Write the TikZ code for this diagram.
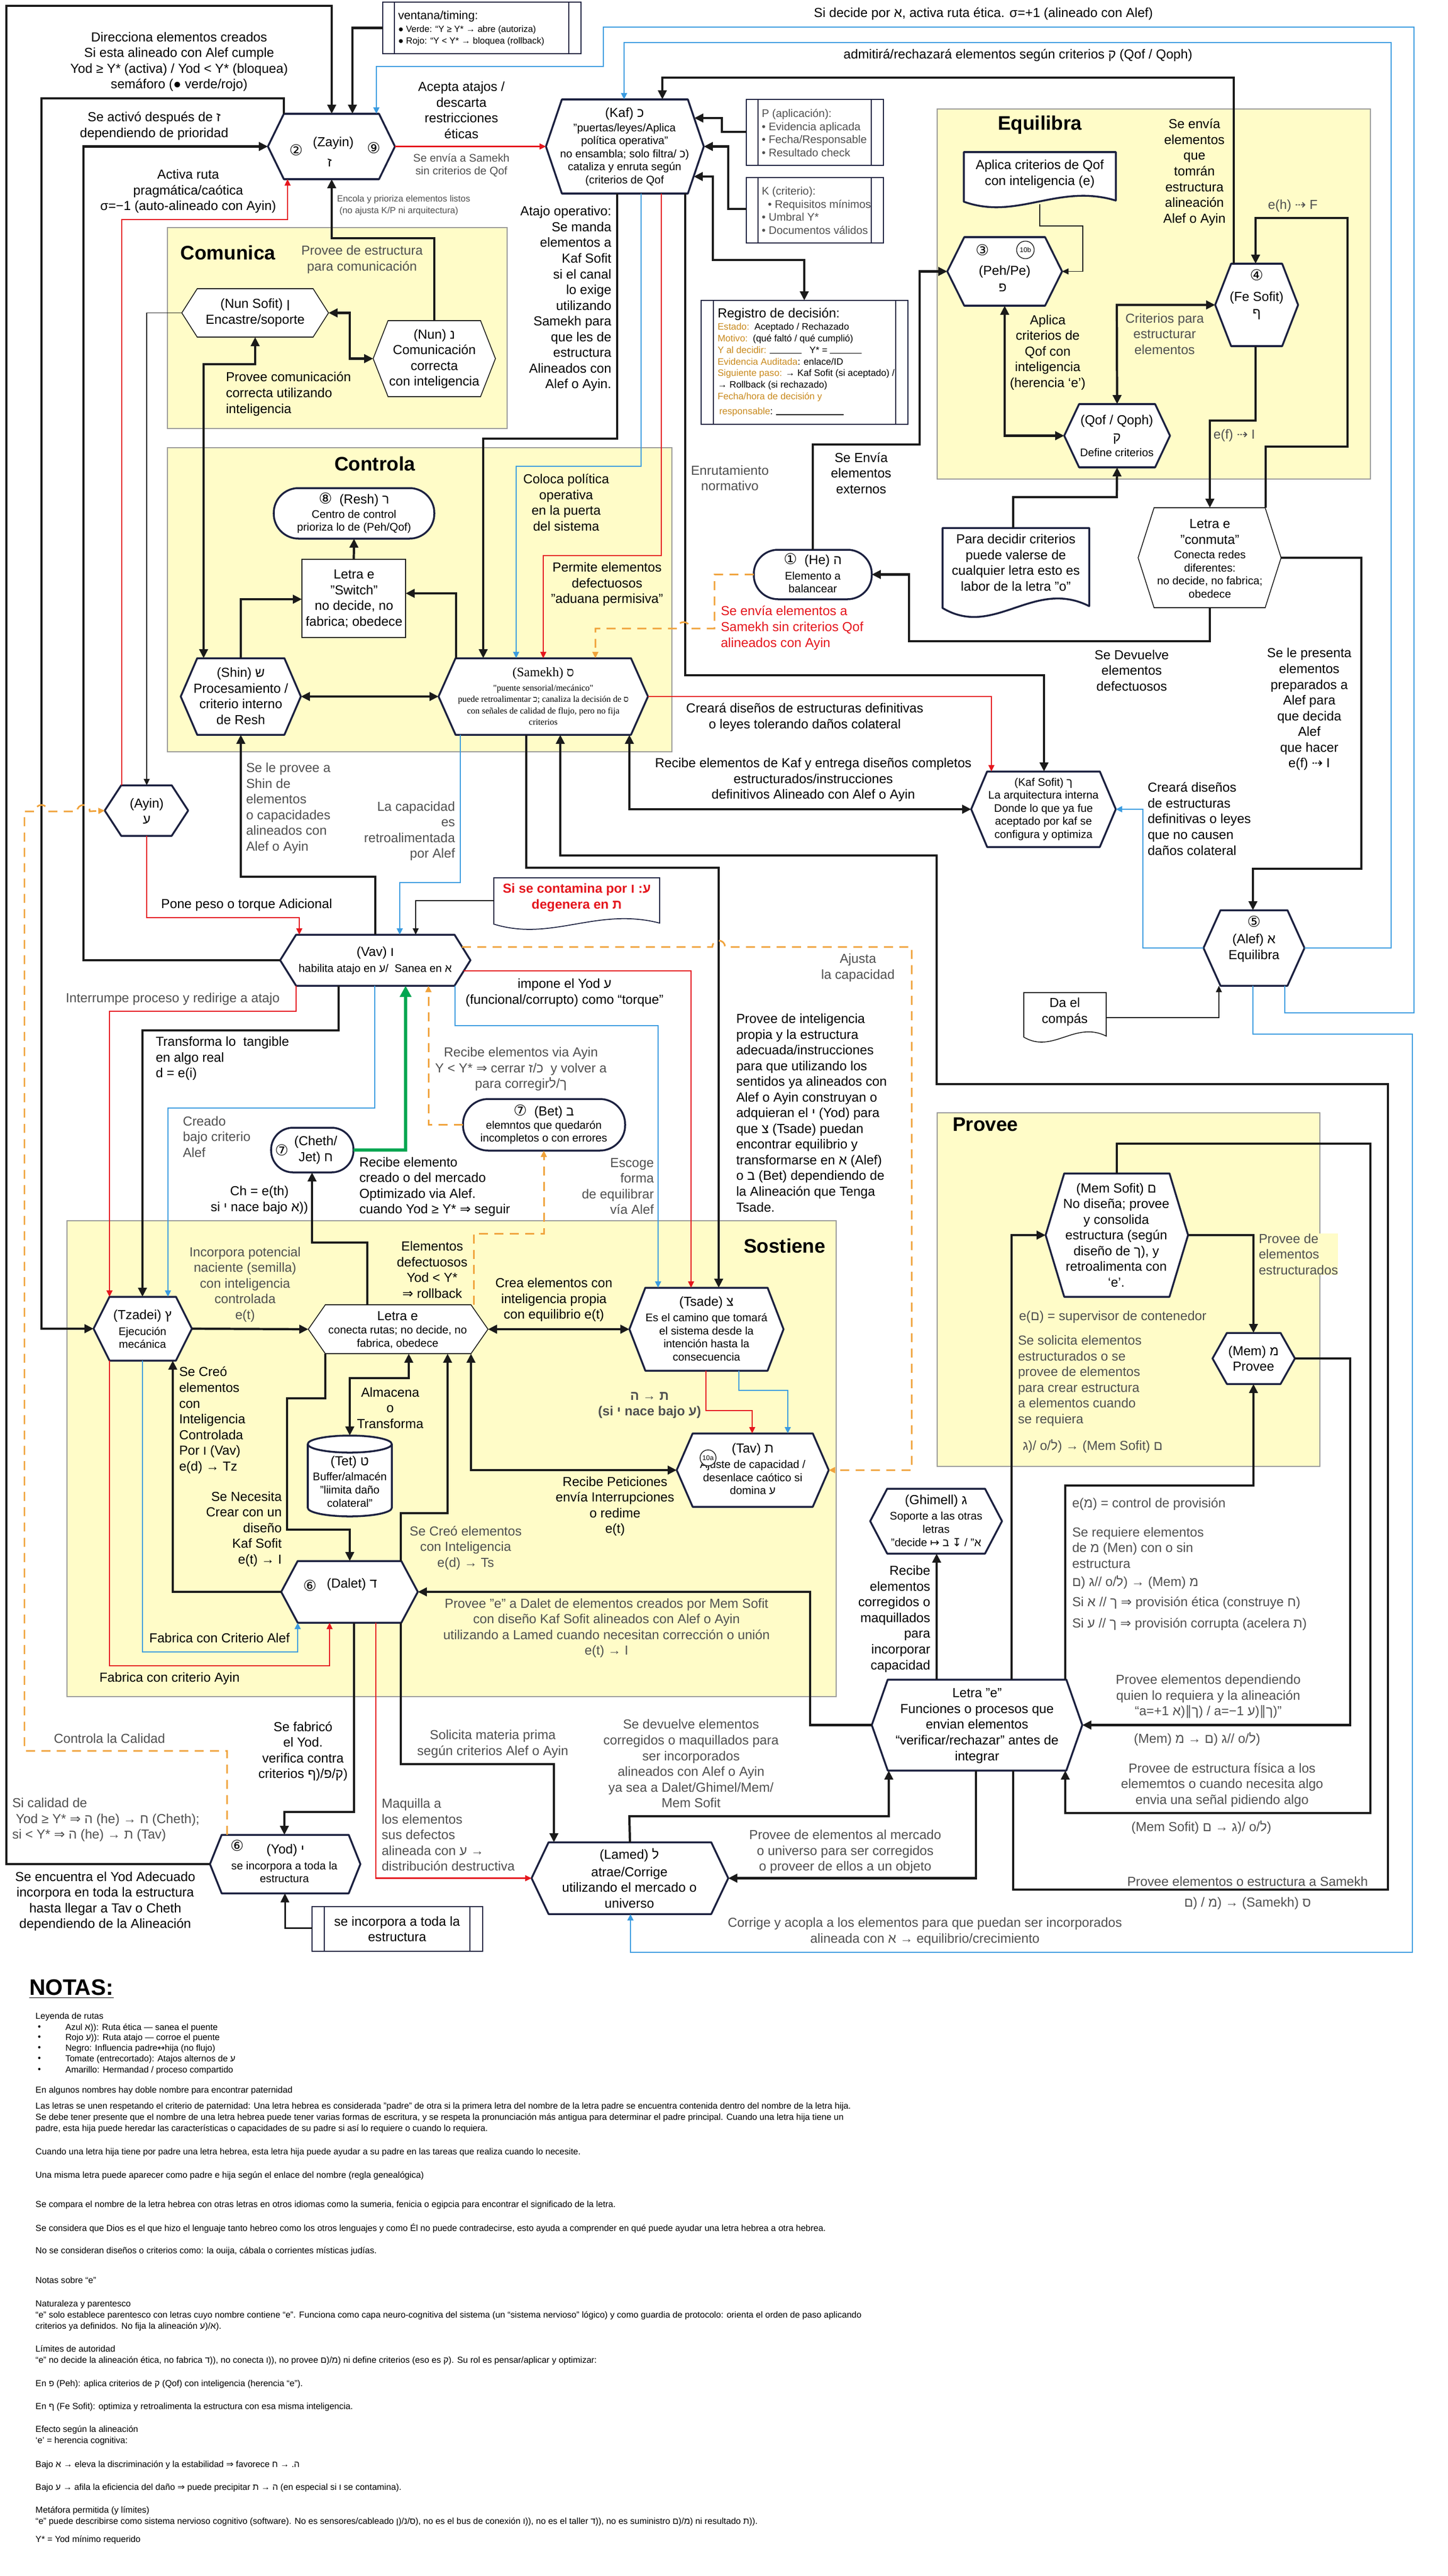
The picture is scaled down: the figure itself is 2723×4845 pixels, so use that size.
\documentclass[tikz,border=0pt]{standalone}
\usepackage{fontspec}
\setmainfont{Liberation Sans}
\newfontfamily\sy{DejaVu Sans}
\newfontfamily\serifx{Liberation Serif}
\usetikzlibrary{arrows.meta}
\definecolor{navy}{HTML}{1C2140}
\definecolor{ylw}{HTML}{FFFCC8}
\definecolor{rd}{HTML}{E5161D}
\definecolor{bl}{HTML}{3A9BE0}
\definecolor{og}{HTML}{F0A23A}
\definecolor{gr}{HTML}{00A651}
\definecolor{gt}{HTML}{505050}
\definecolor{lb}{HTML}{1A1A1A}
\definecolor{br}{HTML}{C98A1E}
\newcommand\K{\kern0pt}
\newcommand\cd[1]{{\sy\fontsize{8}{8}\selectfont#1}}
\newcommand\sym[1]{{\sy#1}}
\newcommand\fL{\fontsize{7}{8.4}\selectfont}
\newcommand\fM{\fontsize{5.9}{7}\selectfont}
\newcommand\fS{\fontsize{4.8}{6.2}\selectfont}
\newcommand\fN{\fontsize{4.7}{6}\selectfont}
\newcommand\fT{\fontsize{10.5}{12}\selectfont\bfseries}
\newcommand\hexn[7]{%
  \path[#7] (#2,{(#3+#5)/2}) -- ({#2+#6},#3) -- ({#4-#6},#3) -- (#4,{(#3+#5)/2}) -- ({#4-#6},#5) -- ({#2+#6},#5) -- cycle;
  \node[lbl,minimum width={(#4-#2)*0.01cm},minimum height={(#5-#3)*0.01cm}] (#1) at ({(#2+#4)/2},{(#3+#5)/2}) {};}
\newcommand\stadn[6]{%
  \path[#6,rounded corners={(#5-#3)*0.0049cm}] (#2,#3) rectangle (#4,#5);
  \node[lbl,minimum width={(#4-#2)*0.01cm},minimum height={(#5-#3)*0.01cm}] (#1) at ({(#2+#4)/2},{(#3+#5)/2}) {};}
\newcommand\docn[6]{%
  \path[#6] (#2,#3) -- (#4,#3) -- (#4,{#5-0.14*(#5-#3)}) .. controls ({#2+0.62*(#4-#2)},{#5-0.45*(#5-#3)}) and ({#2+0.35*(#4-#2)},{#5+0.22*(#5-#3)}) .. (#2,{#5-0.12*(#5-#3)}) -- cycle;
  \node[lbl,minimum width={(#4-#2)*0.01cm},minimum height={(#5-#3)*0.01cm}] (#1) at ({(#2+#4)/2},{(#3+#5)/2}) {};}
\newcommand\predn[8]{%
  \path[#8] (#2,#3) rectangle (#4,#5);
  \draw[#8,fill=none] (#6,#3) -- (#6,#5) (#7,#3) -- (#7,#5);
  \node[lbl,minimum width={(#4-#2)*0.01cm},minimum height={(#5-#3)*0.01cm}] (#1) at ({(#2+#4)/2},{(#3+#5)/2}) {};}
\begin{document}
\begin{tikzpicture}[x=0.01cm,y=-0.01cm,
  lbl/.style={inner sep=0pt,outer sep=0pt,align=center},
  tx/.style={lbl,font=\fL,text=black},
  gx/.style={lbl,font=\fL,text=gt},
  nt/.style={lbl,font=\fN,text=black,anchor=west,align=left},
  ybox/.style={fill=ylw,draw=gray!80,line width=0.4pt},
  nb/.style={fill=white,draw=navy,line width=1pt,line join=round},
  tb/.style={fill=white,draw=lb,line width=0.45pt},
  tbn/.style={fill=white,draw=navy,line width=0.5pt},
  pb/.style={fill=white,draw=navy,line width=0.5pt},
  thk/.style={draw=lb,line width=1.2pt},
  thn/.style={draw=lb,line width=0.55pt},
  med/.style={draw=lb,line width=0.85pt},
  rl/.style={draw=rd,line width=0.7pt},
  bll/.style={draw=bl,line width=0.8pt},
  ol/.style={draw=og,line width=0.85pt,dash pattern=on 4.8pt off 3.4pt},
  gl/.style={draw=gr,line width=1.6pt},
  ar/.style={-{Triangle[length=1.7mm,width=1.6mm]}},
  dar/.style={{Triangle[length=1.7mm,width=1.6mm]}-{Triangle[length=1.7mm,width=1.6mm]}},
  sar/.style={-{Triangle[length=1.2mm,width=1.1mm]}},
  gar/.style={-{Triangle[length=2.1mm,width=2.1mm]}}]
\path[use as bounding box,fill=white] (0,0) rectangle (2723,4845);
% ---------- group boxes ----------
\path[ybox] (315,428) rectangle (954,806);
\path[ybox] (315,842) rectangle (1264,1414);
\path[ybox] (1763,205) rectangle (2578,901);
\path[ybox] (126,2296) rectangle (1573,3191);
\path[ybox] (1763,2093) rectangle (2483,2758);
% ---------- shapes ----------
\hexn{zayin}{504}{214}{743}{337}{30}{nb}
\hexn{kaf}{1027}{187}{1324}{364}{30}{nb}
\hexn{nunsofit}{342}{543}{618}{634}{29}{tb}
\hexn{nun}{702}{603}{932}{746}{28}{tb}
\stadn{resh}{515}{918}{817}{1013}{nb}
\path[tb] (568,1052) rectangle (763,1199);
\node[lbl,minimum width=1.95cm,minimum height=1.47cm] (switch) at (665.5,1125.5) {};
\hexn{shin}{340}{1238}{566}{1382}{31}{nb}
\hexn{samekh}{825}{1238}{1219}{1382}{32}{nb}
\hexn{ayin}{197}{1477}{354}{1572}{31}{nb}
\hexn{vav}{527}{1758}{885}{1854}{30}{nb}
\hexn{kafsofit}{1827}{1451}{2099}{1593}{30}{nb}
\hexn{alef}{2264}{1712}{2454}{1854}{32}{nb}
\stadn{he}{1418}{1034}{1640}{1127}{nb}
\hexn{peh}{1782}{446}{1998}{575}{32}{nb}
\hexn{qof}{2002}{760}{2201}{879}{28}{nb}
\hexn{fesofit}{2286}{496}{2442}{651}{30}{nb}
\hexn{conmuta}{2141}{955}{2410}{1143}{30}{tb}
\docn{docaplica}{1813}{286}{2099}{392}{nb}
\docn{docdecidir}{1773}{993}{2049}{1164}{nb}
\docn{doccontam}{929}{1651}{1241}{1750}{tbn}
\docn{doccompas}{1926}{1867}{2081}{1962}{tb}
\predn{ventana}{720}{4}{1093}{101}{742}{1070}{pb}
\predn{pbox}{1404}{187}{1662}{311}{1426}{1639}{pb}
\predn{kbox}{1404}{334}{1662}{457}{1426}{1639}{pb}
\predn{registro}{1319}{565}{1708}{798}{1342}{1685}{pb}
\predn{incorpora}{587}{3586}{908}{3670}{610}{884}{pb}
\stadn{cheth}{510}{2121}{665}{2205}{nb}
\stadn{bet}{871}{2067}{1176}{2164}{nb}
\hexn{tzadei}{176}{2439}{361}{2559}{30}{nb}
\hexn{letrae}{580}{2454}{918}{2546}{32}{tb}
\hexn{tsade}{1184}{2422}{1474}{2578}{30}{nb}
\hexn{tav}{1273}{2696}{1559}{2834}{30}{nb}
\path[nb] (579,2716) -- (579,2836) arc[start angle=180,end angle=360,x radius=0.79cm,y radius=0.16cm] -- (737,2716) arc[start angle=0,end angle=180,x radius=0.79cm,y radius=0.16cm] -- cycle;
\draw[draw=navy,line width=1pt] (579,2716) arc[start angle=180,end angle=360,x radius=0.79cm,y radius=0.16cm];
\node[lbl,minimum width=1.58cm,minimum height=1.52cm] (tet) at (658,2776) {};
\hexn{dalet}{529}{2936}{786}{3052}{31}{nb}
\hexn{yod}{395}{3451}{678}{3561}{22}{nb}
\hexn{lamed}{1000}{3465}{1370}{3600}{32}{nb}
\hexn{funciones}{1640}{3159}{2036}{3330}{30}{nb}
\hexn{ghimel}{1637}{2800}{1885}{2922}{32}{nb}
\hexn{mem}{2281}{2507}{2436}{2603}{27}{nb}
\hexn{memsofit}{1967}{2207}{2235}{2439}{35}{nb}
\coordinate (kafP) at (1306,222);
\coordinate (kafR) at (1305,332);
\coordinate (vavR) at (869,1781);
\coordinate (vavR2) at (872,1826);
\coordinate (aplB) at (1956,384);
% ---------- connectors ----------
\draw[thk,ar] (yod.west) -- (12,0 |- yod.west) -- (12,11) -- (624,11) -- (624,0 |- zayin.north);
\draw[thk,ar] (534,0 |- zayin.north) -- (534,185) -- (78,185) -- (78,0 |- tzadei.west) -- (tzadei.west);
\draw[thk,ar] (vav.west) -- (157,0 |- vav.west) -- (157,0 |- zayin.west) -- (zayin.west);
\draw[rl,sar] (229,0 |- ayin.north) -- (229,413) -- (541,413) -- (541,0 |- zayin.south);
\draw[thk,ar] (817,0 |- nun.north) -- (817,448) -- (624,448) -- (624,0 |- zayin.south);
\draw[thk,ar] (ventana.west) -- (663,0 |- ventana.west) -- (663,0 |- zayin.north);
\draw[bll,sar] (2417,0 |- alef.south) -- (2417,1905) -- (2660,1905) -- (2660,51) -- (1135,51) -- (1135,125) -- (708,125) -- (708,0 |- zayin.north);
\draw[rl,sar] (zayin.east) -- (kaf.west);
\draw[bll,sar] (alef.east) -- (2617,0 |- alef.east) -- (2617,80) -- (1174,80) -- (1174,0 |- kaf.north);
\draw[thk,ar] (2321,0 |- fesofit.north) -- (2321,146) -- (1246,146) -- (1246,0 |- kaf.north);
\draw[thk,ar] (pbox.west |- 0,248) -- (1358,248) -- (1358,222) -- (kafP);
\draw[thk,ar] (kbox.west |- 0,393) -- (1370,393) -- (1370,0 |- kaf.east) -- (kaf.east);
\draw[thk,dar] (kafR) -- (1341,332) -- (1341,489) -- (1513,489) -- (1513,0 |- registro.north);
\draw[thk,ar] (1161,0 |- kaf.south) -- (1161,825) -- (909,825) -- (909,0 |- samekh.north);
\draw[bll,sar] (1206,0 |- kaf.south) -- (1206,877) -- (971,877) -- (971,0 |- samekh.north);
\draw[rl,sar] (1244,0 |- kaf.south) -- (1244,1045) -- (1022,1045) -- (1022,0 |- samekh.north);
\draw[thk,ar] (1289,0 |- kaf.south) -- (1289,1270) -- (1964,1270) -- (1964,0 |- kafsofit.north);
\draw[ol,sar] (he.west) -- (1344,0 |- he.west) -- (1344,1182) -- (1298,1182) arc[start angle=0,end angle=180,radius=1.2mm] -- (1120,1182) -- (1120,0 |- samekh.north);
\draw[thk,ar] (1529,0 |- he.north) -- (1529,836) -- (1730,836) -- (1730,0 |- peh.west) -- (peh.west);
\draw[thk,ar] (2276,0 |- conmuta.south) -- (2276,1206) -- (1710,1206) -- (1710,0 |- he.east) -- (he.east);
\draw[thn,sar] (aplB) -- (1956,425) -- (2037,425) -- (2037,0 |- peh.east) -- (peh.east);
\draw[thk,dar] (peh.south) -- (1890,0 |- qof.west) -- (qof.west);
\draw[thk,dar] (qof.north) -- (2101,0 |- fesofit.west) -- (fesofit.west);
\draw[thk,ar] (docdecidir.north -| 1906,0) -- (1906,935) -- (2101,935) -- (qof.south);
\draw[thk,ar] (2381,0 |- conmuta.north) -- (2381,840) -- (2535,840) -- (2535,410) -- (2362,410) -- (2362,0 |- fesofit.north);
\draw[thk,ar] (2362,0 |- fesofit.south) -- (2362,791) -- (2276,791) -- (2276,0 |- conmuta.north);
\draw[thk,ar] (conmuta.east) -- (2561,0 |- conmuta.east) -- (2561,1634) -- (2357,1634) -- (2357,0 |- alef.north);
\draw[thn,sar] (doccompas.east |- 0,1914) -- (2293,1914) -- (2293,0 |- alef.south);
\draw[bll,sar] (alef.west) -- (2150,0 |- alef.west) -- (2150,0 |- kafsofit.east) -- (kafsofit.east);
\draw[bll,sar] (2357,0 |- alef.south) -- (2357,1945) -- (2657,1945) -- (2657,3672) -- (1186,3672) -- (1186,0 |- lamed.south);
\draw[rl,sar] (samekh.east) -- (1865,0 |- samekh.east) -- (1865,0 |- kafsofit.north);
\draw[thk,dar] (1184,0 |- samekh.south) -- (1184,0 |- kafsofit.west) -- (kafsofit.west);
\draw[thk,ar] (1906,0 |- funciones.south) -- (1906,3554) -- (2611,3554) -- (2611,2039) -- (1762,2039) -- (1762,1609) -- (1054,1609) -- (1054,0 |- samekh.south);
\draw[thk,ar] (990,0 |- samekh.south) -- (990,1632) -- (1352,1632) -- (1352,0 |- tsade.north);
\draw[thk,dar] (shin.east) -- (samekh.west);
\draw[thk,ar] (858,0 |- samekh.north) -- (858,1116) -- (switch.east |- 0,1116);
\draw[thk,ar] (453,0 |- shin.north) -- (453,1127) -- (switch.west |- 0,1127);
\draw[thk,ar] (switch.north) -- (resh.south);
\draw[thk,dar] (nunsofit.south) -- (480,685) -- (383,685) -- (383,0 |- shin.north);
\draw[thk,dar] (nunsofit.east) -- (658,0 |- nunsofit.east) -- (658,0 |- nun.west) -- (nun.west);
\draw[thn,sar] (nunsofit.west) -- (276,0 |- nunsofit.west) -- (276,0 |- ayin.north);
\draw[thk,ar] (706,0 |- vav.north) -- (706,1649) -- (453,1649) -- (453,0 |- shin.south);
\draw[bll,sar] (866,0 |- samekh.south) -- (866,1660) -- (752,1660) -- (752,0 |- vav.north);
\draw[thn,sar] (doccontam.west |- 0,1694) -- (782,1694) -- (782,0 |- vav.north);
\draw[rl,sar] (276,0 |- ayin.south) -- (276,1726) -- (563,1726) -- (563,0 |- vav.north);
\draw[ol,sar] (427,0 |- yod.north) -- (427,3293) -- (46,3293) -- (46,1526) -- (66,1526) arc[start angle=180,end angle=0,radius=1.2mm] -- (145,1526) arc[start angle=180,end angle=0,radius=1.2mm] -- (ayin.west);
\draw[rl,sar] (557,0 |- vav.south) -- (557,1902) -- (206,1902) -- (206,0 |- tzadei.north);
\draw[thk,ar] (637,0 |- vav.south) -- (637,1938) -- (268,1938) -- (268,0 |- tzadei.north);
\draw[bll,sar] (705,0 |- vav.south) -- (705,2084) -- (316,2084) -- (316,0 |- tzadei.north);
\draw[gl,gar] (cheth.east) -- (763,0 |- cheth.east) -- (763,0 |- vav.south);
\draw[ol,sar] (bet.west) -- (806,0 |- bet.west) -- (806,0 |- vav.south);
\draw[ol,sar] (vavR) -- (1340,1781) arc[start angle=180,end angle=0,radius=1.2mm] -- (1715,1781) -- (1715,0 |- tav.east) -- (tav.east);
\draw[rl,sar] (vavR2) -- (1300,1826) -- (1300,0 |- tsade.north);
\draw[bll,sar] (856,0 |- vav.south) -- (856,1929) -- (1238,1929) -- (1238,0 |- tsade.north);
\draw[ol,sar] (891,0 |- letrae.north) -- (891,2320) -- (1023,2320) -- (1023,0 |- bet.south);
\draw[thk,ar] (691,0 |- letrae.north) -- (691,2337) -- (587,2337) -- (587,0 |- cheth.south);
\draw[thk,ar] (tzadei.east) -- (letrae.west);
\draw[thk,dar] (letrae.east) -- (tsade.west);
\draw[rl,sar] (1328,0 |- tsade.south) -- (1328,2653) -- (1415,2653) -- (1415,0 |- tav.north);
\draw[bll,sar] (1390,0 |- tsade.south) -- (1390,2615) -- (1482,2615) -- (1482,0 |- tav.north);
\draw[thk,dar] (886,0 |- letrae.south) -- (886,0 |- tav.west) -- (tav.west);
\draw[thk,dar] (tet.north) -- (658,2592) -- (769,2592) -- (769,0 |- letrae.south);
\draw[thk,ar] (612,0 |- letrae.south) -- (612,2630) -- (540,2630) -- (540,2877) -- (658,2877) -- (658,0 |- dalet.north);
\draw[thk,ar] (754,0 |- dalet.north) -- (754,2846) -- (842,2846) -- (842,0 |- letrae.south);
\draw[thk,ar] (dalet.west) -- (325,0 |- dalet.west) -- (325,0 |- tzadei.south);
\draw[bll,sar] (268,0 |- tzadei.south) -- (268,3107) -- (560,3107) -- (560,0 |- dalet.south);
\draw[rl,sar] (206,0 |- tzadei.south) -- (206,3133) -- (620,3133) -- (620,0 |- dalet.south);
\draw[thk,ar] (funciones.west) -- (1524,0 |- funciones.west) -- (1524,0 |- dalet.east) -- (dalet.east);
\draw[thk,ar] (666,0 |- dalet.south) -- (666,3408) -- (535,3408) -- (535,0 |- yod.north);
\draw[rl,sar] (707,0 |- dalet.south) -- (707,0 |- lamed.west) -- (lamed.west);
\draw[thk,ar] (754,0 |- dalet.south) -- (754,3318) -- (1042,3318) -- (1042,0 |- lamed.north);
\draw[med,ar] (incorpora.west |- 0,3626) -- (536,3626) -- (536,0 |- yod.south);
\draw[thk,ar] (lamed.north) -- (1184,3416) -- (1672,3416) -- (1672,0 |- funciones.south);
\draw[thk,ar] (1836,0 |- funciones.south) -- (1836,0 |- lamed.east) -- (lamed.east);
\draw[thk,ar] (1903,0 |- funciones.north) -- (1903,0 |- memsofit.west) -- (memsofit.west);
\draw[thk,ar] (memsofit.north) -- (2101,2151) -- (2578,2151) -- (2578,3410) -- (2004,3410) -- (2004,0 |- funciones.south);
\draw[thk,ar] (memsofit.east) -- (2358,0 |- memsofit.east) -- (2358,0 |- mem.north);
\draw[thk,ar] (mem.east) -- (2540,0 |- mem.east) -- (2540,0 |- funciones.east) -- (funciones.east);
\draw[thk,ar] (2004,0 |- funciones.north) -- (2004,2794) -- (2358,2794) -- (2358,0 |- mem.south);
\draw[thk,ar] (1762,0 |- funciones.north) -- (1762,0 |- ghimel.south);
% ---------- node texts ----------
\node[tx] (zT1) at (627,269) {(Zayin)};
\node[tx] (zT2) at (620,306) {ז};
\node[lbl] (zT3) at (557,282) {\cd{②}};
\node[lbl] (zT4) at (703,278) {\cd{⑨}};
\node[tx] (kT1) at (1175,214) {(Kaf) כ};
\node[tx,font=\fM] (kT2) at (1175,291) {"puertas/leyes/Aplica\\política operativa"\\no ensambla; solo filtra/ כ\K{})\\cataliza y enruta según\\(criterios de Qof};
\node[tx] (nsT) at (480,588) {(Nun Sofit) ן\\Encastre/soporte};
\node[tx] (nT) at (817,675) {(Nun) נ\\Comunicación\\correcta\\con inteligencia};
\node[tx] (rT1) at (666,940) {\cd{⑧}\ \ (Resh) ר};
\node[tx,font=\fM] (rT2) at (666,981) {Centro de control\\prioriza lo de (Peh/Qof)};
\node[tx] (swT) at (666,1126) {Letra e\\"Switch"\\no decide, no\\fabrica; obedece};
\node[tx] (shT) at (453,1309) {(Shin) ש\\Procesamiento /\\criterio interno\\de Resh};
\node[tx,font=\serifx\fontsize{7}{8}\selectfont] (smT1) at (1022,1267) {(Samekh) ס};
\node[tx,font=\serifx\fontsize{4.7}{6.1}\selectfont] (smT2) at (1022,1326) {"puente sensorial/mecánico"\\puede retroalimentar ;כ canaliza la decisión de ס\\con señales de calidad de flujo, pero no fija\\criterios};
\node[tx] (ayT) at (276,1526) {(Ayin)\\ע};
\node[tx] (vT1) at (706,1792) {(Vav) ו};
\node[tx,font=\fM] (vT2) at (706,1823) {habilita atajo en ע\K{}/\ \ Sanea en א};
\node[tx,font=\fM] (ksT) at (1963,1522) {(Kaf Sofit) ך\\La arquitectura interna\\Donde lo que ya fue\\aceptado por kaf se\\configura y optimiza};
\node[lbl] (aT1) at (2359,1733) {\cd{⑤}};
\node[tx] (aT2) at (2359,1783) {(Alef) א\\Equilibra};
\node[tx] (hT1) at (1529,1054) {\cd{①}\ \ (He) ה};
\node[tx,font=\fM] (hT2) at (1529,1095) {Elemento a\\balancear};
\node[lbl] (pT1) at (1848,470) {\cd{③}};
\node[lbl,draw=lb,line width=0.4pt,circle,minimum size=0.33cm,font=\fontsize{3.6}{4}\selectfont] (pT2) at (1929,470) {10b};
\node[tx] (pT3) at (1890,511) {(Peh/Pe)};
\node[tx] (pT4) at (1886,541) {פ};
\node[tx] (qT1) at (2101,792) {(Qof / Qoph)};
\node[tx] (qT2) at (2101,825) {ק};
\node[tx,font=\fM] (qT3) at (2101,851) {Define criterios};
\node[lbl] (fT1) at (2364,517) {\cd{④}};
\node[tx] (fT2) at (2364,575) {(Fe Sofit)\\ף};
\node[tx] (cT1) at (2276,1000) {Letra e\\"conmuta"};
\node[tx,font=\fM] (cT2) at (2276,1080) {Conecta redes\\diferentes:\\no decide, no fabrica;\\obedece};
\node[tx] (daT) at (1956,327) {Aplica criterios de Qof\\con inteligencia (e)};
\node[tx] (ddT) at (1911,1058) {Para decidir criterios\\puede valerse de\\cualquier letra esto es\\labor de la letra "o"};
\node[tx,text=rd,font=\fL\bfseries] (dcT) at (1085,1688) {Si se contamina por ו\K{} :\K{}ע\\degenera en ת};
\node[tx] (dpT) at (2003,1903) {Da el\\compás};
\node[tx,anchor=west,font=\fontsize{6.3}{7}\selectfont] (veT1) at (749,31) {ventana/timing:};
\node[tx,anchor=west,align=left,font=\fS] (veT2) at (749,67.5) {● Verde: “Y ≥ Y* → abre (autoriza)\\● Rojo: “Y < Y* → bloquea (rollback)};
\node[gx,anchor=west,align=left,font=\fM] (pbT) at (1433,250) {P (aplicación):\\• Evidencia aplicada\\• Fecha/Responsable\\• Resultado check};
\node[gx,anchor=west,align=left,font=\fM] (kbT) at (1433,396) {K (criterio):\\\ \ • Requisitos mínimos\\• Umbral Y*\\• Documentos válidos};
\node[tx,anchor=west] (rgT1) at (1350,591) {Registro de decisión:};
\node[tx,anchor=west,align=left,font=\fontsize{5}{6.2}\selectfont] (rgT2) at (1350,681.5) {\textcolor{br}{Estado:}\ \ Aceptado / Rechazado\\\textcolor{br}{Motivo:}\ \ (qué faltó / qué cumplió)\\\textcolor{br}{Y al decidir:} \rule[-0.3pt]{17pt}{0.35pt}\ \ \ Y* = \rule[-0.3pt]{17pt}{0.35pt}\\\textcolor{br}{Evidencia Auditada}: enlace/ID\\\textcolor{br}{Siguiente paso:} → Kaf Sofit (si aceptado) /\\→ Rollback (si rechazado)\\\textcolor{br}{Fecha/hora de decisión y}};
\node[tx,anchor=west,font=\fontsize{5}{6.2}\selectfont] (rgT3) at (1353,775) {\textcolor{br}{responsable}: \rule[-0.3pt]{36pt}{0.35pt}};
\node[lbl] (chT1) at (530,2163) {\cd{⑦}};
\node[tx] (chT2) at (594,2163) {(Cheth/\\Jet) ח};
\node[tx] (bT1) at (1023,2091) {\cd{⑦}\ \ (Bet) ב};
\node[tx,font=\fM] (bT2) at (1023,2130) {elemntos que quedarón\\incompletos o con errores};
\node[tx] (tzT1) at (268,2475) {(Tzadei) ץ};
\node[tx,font=\fM] (tzT2) at (268,2516) {Ejecución\\mecánica};
\node[tx] (leT1) at (748,2475) {Letra e};
\node[tx,font=\fM] (leT2) at (748,2515) {conecta rutas; no decide, no\\fabrica, obedece};
\node[tx] (tsT1) at (1329,2450) {(Tsade) צ};
\node[tx,font=\fM] (tsT2) at (1329,2515) {Es el camino que tomará\\el sistema desde la\\intención hasta la\\consecuencia};
\node[tx] (tvT1) at (1416,2726) {(Tav) ת};
\node[tx,font=\fM] (tvT2) at (1416,2779) {Ajuste de capacidad /\\desenlace caótico si\\domina ע};
\node[lbl,draw=lb,line width=0.4pt,circle,fill=white,minimum size=0.3cm,font=\fontsize{3.6}{4}\selectfont] (tvT3) at (1332,2742) {10a};
\node[tx] (ttT1) at (658,2750) {(Tet) ט};
\node[tx,font=\fM] (ttT2) at (658,2802) {Buffer/almacén\\"liimita daño\\colateral"};
\node[lbl] (dlT1) at (583,2982) {\cd{⑥}};
\node[tx] (dlT2) at (662,2980) {(Dalet) ד};
\node[lbl] (yT1) at (446,3471) {\cd{⑥}};
\node[tx] (yT2) at (537,3480) {(Yod) י};
\node[tx,font=\fM] (yT3) at (535,3521) {se incorpora a toda la\\estructura};
\node[tx] (lmT1) at (1184,3489) {(Lamed) ל};
\node[tx] (lmT2) at (1184,3550) {atrae/Corrige\\utilizando el mercado o\\universo};
\node[tx] (fnT) at (1838,3246) {Letra "e"\\Funciones o procesos que\\envian elementos\\“verificar/rechazar” antes de\\integrar};
\node[tx] (ghT1) at (1761,2823) {(Ghimell) ג};
\node[tx,font=\fM] (ghT2) at (1761,2876) {Soporte a las otras\\letras\\"decide \sym{↦} ב \sym{↧} / א"};
\node[tx] (mmT) at (2358,2555) {(Mem) מ\\Provee};
\node[tx] (msT) at (2100,2323) {(Mem Sofit) ם\\No diseña; provee\\y consolida\\estructura (según\\diseño de ך\K{}), y\\retroalimenta con\\‘e’.};
\node[tx] (icT) at (747,3628) {se incorpora a toda la\\estructura};
% ---------- titles ----------
\node[lbl,font=\fT] (ttl1) at (429,475) {Comunica};
\node[lbl,font=\fT] (ttl2) at (705,872) {Controla};
\node[lbl,font=\fT] (ttl3) at (1956,235) {Equilibra};
\node[lbl,font=\fT] (ttl4) at (1476,2343) {Sostiene};
\node[lbl,font=\fT,anchor=west] (ttl5) at (1792,2115) {Provee};
% ---------- connector labels ----------
\node[tx] (L1) at (337,116) {Direcciona elementos creados\\Si esta alineado con Alef cumple\\Yod ≥ Y* (activa) / Yod < Y* (bloquea)\\semáforo (● verde/rojo)};
\node[tx] (L2) at (290,237) {Se activó después de ז\\dependiendo de prioridad};
\node[tx] (L3) at (354,360) {Activa ruta\\pragmática/caótica\\σ=−1 (auto-alineado con Ayin)};
\node[gx,anchor=west,align=left,font=\fS] (L4) at (634,386) {Encola y prioriza elementos listos\\\ (no ajusta K/P ni arquitectura)};
\node[tx] (L5) at (868,207) {Acepta atajos /\\descarta\\restricciones\\éticas};
\node[gx,font=\fM] (L6) at (868,311) {Se envía a Samekh\\sin criterios de Qof};
\node[tx] (L7) at (1850,26) {Si decide por א\K{}, activa ruta ética. σ=+1 (alineado con Alef)};
\node[tx] (L8) at (1915,104) {admitirá/rechazará elementos según criterios ק (Qof / Qoph)};
\node[gx] (L9) at (681,488) {Provee de estructura\\para comunicación};
\node[tx,anchor=west,align=left] (L10) at (425,741) {Provee comunicación\\correcta utilizando\\inteligencia};
\node[tx,anchor=east,align=right] (L11) at (1150,562) {Atajo operativo:\\Se manda\\elementos a\\Kaf Sofit\\si el canal\\lo exige\\utilizando\\Samekh para\\que les de\\estructura\\Alineados con\\Alef o Ayin.};
\node[tx] (L12) at (1065,945) {Coloca política\\operativa\\en la puerta\\del sistema};
\node[tx] (L13) at (1142,1099) {Permite elementos\\defectuosos\\"aduana permisiva"};
\node[gx] (L14) at (1373,899) {Enrutamiento\\normativo};
\node[tx] (L15) at (1620,890) {Se Envía\\elementos\\externos};
\node[tx,anchor=west,align=left,text=rd] (L16) at (1356,1181) {Se envía elementos a\\Samekh sin criterios Qof\\alineados con Ayin};
\node[tx] (L17) at (2247,324) {Se envía\\elementos\\que\\tomrán\\estructura\\alineación\\Alef o Ayin};
\node[gx] (L18) at (2432,387) {e(h) \sym{⇢} F};
\node[tx] (L19) at (1971,663) {Aplica\\criterios de\\Qof con\\inteligencia\\(herencia ‘e’)};
\node[gx] (L20) at (2191,628) {Criterios para\\estructurar\\elementos};
\node[gx] (L21) at (2322,819) {e(f) \sym{⇢} I};
\node[tx] (L22) at (2129,1261) {Se Devuelve\\elementos\\defectuosos};
\node[tx] (L23) at (2463,1334) {Se le presenta\\elementos\\preparados a\\Alef para\\que decida\\Alef\\que hacer\\e(f) \sym{⇢} I};
\node[tx] (L24) at (1514,1349) {Creará diseños de estructuras definitivas\\o leyes tolerando daños colateral};
\node[tx] (L25) at (1530,1467) {Recibe elementos de Kaf y entrega diseños completos\\estructurados/instrucciones\\definitivos Alineado con Alef o Ayin};
\node[tx,anchor=west,align=left] (L26) at (2159,1540) {Creará diseños\\de estructuras\\definitivas o leyes\\que no causen\\daños colateral};
\node[gx,anchor=west,align=left] (L27) at (463,1520) {Se le provee a\\Shin de\\elementos\\o capacidades\\alineados con\\Alef o Ayin};
\node[gx,anchor=east,align=right] (L28) at (856,1563) {La capacidad\\es\\retroalimentada\\por Alef};
\node[tx] (L29) at (464,1702) {Pone peso o torque Adicional};
\node[gx] (L30) at (325,1879) {Interrumpe proceso y redirige a atajo};
\node[tx] (L31) at (1062,1867) {impone el Yod ע\\(funcional/corrupto) como “torque”};
\node[gx] (L32) at (1614,1820) {Ajusta\\la capacidad};
\node[tx,anchor=west,align=left] (L33) at (293,1991) {Transforma lo\ \ tangible\\en algo real\\d = e(i)};
\node[gx] (L34) at (980,2011) {Recibe elementos via Ayin\\Y < Y* \sym{⇒} cerrar ז\K{}/\K{}כ\ \ y volver a\\para corregir\K{}ל\K{}/\K{}ך};
\node[gx,anchor=west,align=left] (L35) at (344,2138) {Creado\\bajo criterio\\Alef};
\node[tx] (L36) at (488,2257) {Ch = e(th)\\si י nace bajo (א\K{})};
\node[tx,anchor=west,align=left] (L37) at (676,2232) {Recibe elemento\\creado o del mercado\\Optimizado via Alef.\\cuando Yod ≥ Y* \sym{⇒} seguir};
\node[gx,anchor=east,align=right] (L38) at (1230,2231) {Escoge\\forma\\de equilibrar\\vía Alef};
\node[tx,anchor=west,align=left] (L39) at (1385,2093) {Provee de inteligencia\\propia y la estructura\\adecuada/instrucciones\\para que utilizando los\\sentidos ya alineados con\\Alef o Ayin construyan o\\adquieran el י (Yod) para\\que צ (Tsade) puedan\\encontrar equilibrio y\\transformarse en א (Alef)\\o ב (Bet) dependiendo de\\la Alineación que Tenga\\Tsade.};
\node[gx] (L40) at (461,2416) {Incorpora potencial\\naciente (semilla)\\con inteligencia\\controlada\\e(t)};
\node[tx] (L41) at (813,2388) {Elementos\\defectuosos\\Yod < Y*\\\sym{⇒} rollback};
\node[tx] (L42) at (1042,2445) {Crea elementos con\\inteligencia propia\\con equilibrio e(t)};
\node[tx,font=\fL\bfseries,text=gt] (L43) at (1222,2643) {ה → ת\\(si י nace bajo ע\K{})};
\node[tx,anchor=west,align=left] (L44) at (337,2671) {Se Creó\\elementos\\con\\Inteligencia\\Controlada\\Por ו (Vav)\\e(d) → Tz};
\node[tx] (L45) at (734,2648) {Almacena\\o\\Transforma};
\node[tx,anchor=east,align=right] (L46) at (530,2876) {Se Necesita\\Crear con un\\diseño\\Kaf Sofit\\e(t) → I};
\node[gx] (L47) at (876,2911) {Se Creó elementos\\con Inteligencia\\e(d) → Ts};
\node[tx] (L48) at (1157,2833) {Recibe Peticiones\\envía Interrupciones\\o redime\\e(t)};
\node[tx] (L49) at (413,3081) {Fabrica con Criterio Alef};
\node[tx] (L50) at (319,3157) {Fabrica con criterio Ayin};
\node[gx] (L51) at (1141,3062) {Provee "e" a Dalet de elementos creados por Mem Sofit\\con diseño Kaf Sofit alineados con Alef o Ayin\\utilizando a Lamed cuando necesitan corrección o unión\\e(t) → I};
\node[tx,anchor=east,align=right] (L52) at (1750,3045) {Recibe\\elementos\\corregidos o\\maquillados\\para\\incorporar\\capacidad};
\node[gx,anchor=west,align=left] (L53) at (1917,2477) {e(ם\K{}) = supervisor de contenedor};
\node[gx,anchor=west,align=left] (L54) at (1915,2597) {Se solicita elementos\\estructurados o se\\provee de elementos\\para crear estructura\\a elementos cuando\\se requiera};
\node[gx,anchor=west,align=left] (L55) at (1924,2720) {(ג\K{}/ o/\K{}ל\K{}) → (Mem Sofit) ם};
\node[gx,anchor=west,align=left,fill=ylw] (L56) at (2368,2359) {Provee de\\elementos\\estructurados};
\node[gx,anchor=west,align=left] (L57) at (2017,2829) {e(מ\K{}) = control de provisión};
\node[gx,anchor=west,align=left] (L58) at (2017,2911) {Se requiere elementos\\de מ (Men) con o sin\\estructura};
\node[gx,anchor=west,align=left] (L59) at (2017,2976) {(ם\K{} /ג\K{}/ o/\K{}ל\K{}) → (Mem) מ};
\node[gx,anchor=west,align=left] (L60) at (2017,3015) {Si א // ך \sym{⇒} provisión ética (construye ח\K{})};
\node[gx,anchor=west,align=left] (L61) at (2017,3055) {Si ע // ך \sym{⇒} provisión corrupta (acelera ת\K{})};
\node[gx] (L62) at (2273,3191) {Provee elementos dependiendo\\quien lo requiera y la alineación\\“a=+1 (א\K{}\sym{∥}\K{}ך\K{}) / a=−1 (ע\K{}\sym{∥}\K{}ך\K{})”};
\node[gx] (L63) at (2252,3271) {(Mem) מ → (ם\K{} /ג\K{}/ o/\K{}ל\K{})};
\node[gx] (L64) at (2299,3357) {Provee de estructura física a los\\elememtos o cuando necesita algo\\envia una señal pidiendo algo};
\node[gx] (L65) at (2260,3437) {(Mem Sofit) ם → (ג\K{}/ o/\K{}ל\K{})};
\node[tx] (L66) at (570,3294) {Se fabricó\\el Yod.\\verifica contra\\criterios (ף\K{}/\K{}פ\K{}/\K{}ק\K{})};
\node[gx] (L67) at (927,3280) {Solicita materia prima\\según criterios Alef o Ayin};
\node[gx] (L68) at (206,3270) {Controla la Calidad};
\node[gx,anchor=west,align=left] (L69) at (23,3423) {Si calidad de\\\ Yod ≥ Y* \sym{⇒} ה (he) → ח (Cheth);\\si < Y* \sym{⇒} ה (he) → ת (Tav)};
\node[gx,anchor=west,align=left] (L70) at (718,3451) {Maquilla a\\los elementos\\sus defectos\\alineada con ע →\\distribución destructiva};
\node[gx] (L71) at (1300,3317) {Se devuelve elementos\\corregidos o maquillados para\\ser incorporados\\alineados con Alef o Ayin\\ya sea a Dalet/Ghimel/Mem/\\Mem Sofit};
\node[gx] (L72) at (1590,3483) {Provee de elementos al mercado\\o universo para ser corregidos\\o proveer de ellos a un objeto};
\node[tx] (L73) at (198,3576) {Se encuentra el Yod Adecuado\\incorpora en toda la estructura\\hasta llegar a Tav o Cheth\\dependiendo de la Alineación};
\node[gx] (L74) at (2347,3539) {Provee elementos o estructura a Samekh};
\node[gx] (L74b) at (2347,3580) {(ם\K{} / מ\K{}) → (Samekh) ס};
\node[gx] (L75) at (1740,3633) {Corrige y acopla a los elementos para que puedan ser incorporados\\alineada con א → equilibrio/crecimiento};
% ---------- notes ----------
\node[lbl,anchor=west,font=\fontsize{12}{14}\selectfont\bfseries] (nTit) at (55,3741) {\underline{NOTAS:}};
\node[nt] (n1) at (67,3793) {Leyenda de rutas};
\node[nt] (b1) at (71,3814) {•};
\node[nt] (b2) at (71,3833) {•};
\node[nt] (b3) at (71,3853) {•};
\node[nt] (b4) at (71,3873) {•};
\node[nt] (b5) at (71,3894) {•};
\node[nt] (n2) at (123,3814) {Azul (א\K{}): Ruta ética — sanea el puente};
\node[nt] (n3) at (123,3833) {Rojo (ע\K{}): Ruta atajo — corroe el puente};
\node[nt] (n4) at (123,3853) {Negro: Influencia padre\sym{↔}hija (no flujo)};
\node[nt] (n5) at (123,3873) {Tomate (entrecortado): Atajos alternos de ע};
\node[nt] (n6) at (123,3894) {Amarillo: Hermandad / proceso compartido};
\node[nt] (n7) at (67,3932) {En algunos nombres hay doble nombre para encontrar paternidad};
\node[nt] (n8) at (67,3983) {Las letras se unen respetando el criterio de paternidad: Una letra hebrea es considerada "padre" de otra si la primera letra del nombre de la letra padre se encuentra contenida dentro del nombre de la letra hija.\\Se debe tener presente que el nombre de una letra hebrea puede tener varias formas de escritura, y se respeta la pronunciación más antigua para determinar el padre principal. Cuando una letra hija tiene un\\padre, esta hija puede heredar las características o capacidades de su padre si así lo requiere o cuando lo requiera.};
\node[nt] (n9) at (67,4048) {Cuando una letra hija tiene por padre una letra hebrea, esta letra hija puede ayudar a su padre en las tareas que realiza cuando lo necesite.};
\node[nt] (n10) at (67,4092) {Una misma letra puede aparecer como padre e hija según el enlace del nombre (regla genealógica)};
\node[nt] (n11) at (67,4147) {Se compara el nombre de la letra hebrea con otras letras en otros idiomas como la sumeria, fenicia o egipcia para encontrar el significado de la letra.};
\node[nt] (n12) at (67,4191) {Se considera que Dios es el que hizo el lenguaje tanto hebreo como los otros lenguajes y como Él no puede contradecirse, esto ayuda a comprender en qué puede ayudar una letra hebrea a otra hebrea.};
\node[nt] (n13) at (67,4234) {No se consideran diseños o criterios como: la ouija, cábala o corrientes místicas judías.};
\node[nt] (n14) at (67,4289) {Notas sobre “e”};
\node[nt] (n15) at (67,4355) {Naturaleza y parentesco\\“e” solo establece parentesco con letras cuyo nombre contiene “e”. Funciona como capa neuro-cognitiva del sistema (un “sistema nervioso” lógico) y como guardia de protocolo: orienta el orden de paso aplicando\\criterios ya definidos. No fija la alineación (ע\K{}/\K{}א\K{}).};
\node[nt] (n16) at (67,4430) {Límites de autoridad\\“e” no decide la alineación ética, no fabrica (ד\K{}), no conecta (ו\K{}), no provee (ם\K{}/\K{}מ\K{}) ni define criterios (eso es ק\K{}). Su rol es pensar/aplicar y optimizar:};
\node[nt] (n17) at (67,4484) {En פ (Peh): aplica criterios de ק (Qof) con inteligencia (herencia “e”).};
\node[nt] (n18) at (67,4527) {En ף (Fe Sofit): optimiza y retroalimenta la estructura con esa misma inteligencia.};
\node[nt] (n19) at (67,4581) {Efecto según la alineación\\‘e’ = herencia cognitiva:};
\node[nt] (n20) at (67,4636) {Bajo א → eleva la discriminación y la estabilidad \sym{⇒} favorece ח → ה.};
\node[nt] (n21) at (67,4679) {Bajo ע → afila la eficiencia del daño \sym{⇒} puede precipitar ת → ה (en especial si ו se contamina).};
\node[nt] (n22) at (67,4733) {Metáfora permitida (y límites)\\“e” puede describirse como sistema nervioso cognitivo (software). No es sensores/cableado (ן\K{}/\K{}נ\K{}/\K{}ס\K{}), no es el bus de conexión (ו\K{}), no es el taller (ד\K{}), no es suministro (ם\K{}/\K{}מ\K{}) ni resultado (ת\K{}).};
\node[nt] (n23) at (67,4777) {Y* = Yod mínimo requerido};
\end{tikzpicture}
\end{document}
